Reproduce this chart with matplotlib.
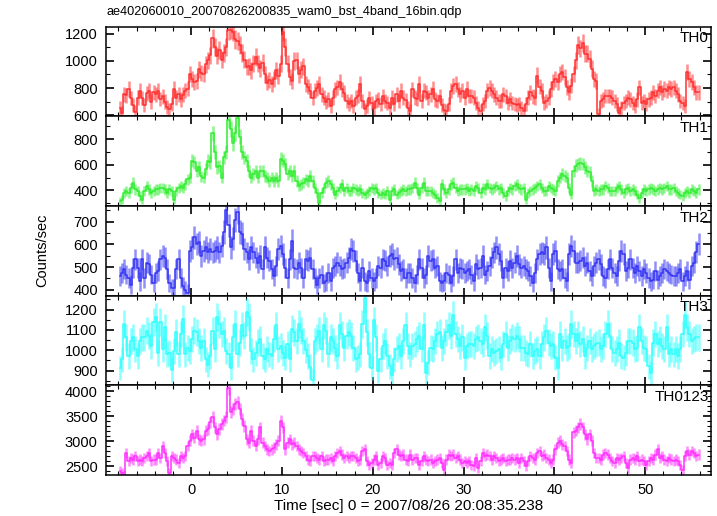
import numpy as np
import matplotlib
matplotlib.use("Agg")
import matplotlib.pyplot as plt
from matplotlib.ticker import MultipleLocator

plt.rcParams["font.family"] = ["Liberation Sans", "DejaVu Sans"]

TITLE = "ae402060010_20070826200835_wam0_bst_4band_16bin.qdp"
XLABEL = "Time [sec] 0 = 2007/08/26 20:08:35.238"
YLABEL = "Counts/sec"

# light curve: 0.25 s bins starting at t = -8 s (256 bins), counts/sec
T_START = -8.0
BIN = 0.25

th0 = [
    655, 617, 755, 745, 792, 725, 675, 625, 730, 780, 725, 675, 760, 780, 700, 770,
    755, 780, 720, 740, 700, 662, 642, 680, 792, 730, 755, 717, 750, 780, 795, 905,
    870, 842, 855, 937, 912, 905, 975, 1005, 1042, 1167, 1100, 1040, 1080, 1010, 1060, 1100,
    1225, 1230, 1215, 1160, 1145, 1115, 1060, 1010, 955, 960, 930, 980, 1030, 980, 945, 985,
    900, 840, 860, 830, 870, 930, 890, 980, 1217, 1105, 980, 880, 850, 1000, 1005, 900,
    935, 960, 830, 810, 780, 725, 780, 800, 830, 755, 730, 695, 717, 667, 730, 790,
    805, 842, 790, 765, 705, 680, 705, 667, 730, 742, 830, 705, 642, 667, 725, 690,
    655, 705, 717, 680, 740, 705, 690, 650, 730, 680, 755, 705, 780, 730, 710, 655,
    630, 790, 730, 720,
    830, 705, 780, 767, 730, 755, 792, 717, 705, 742, 675, 640, 630, 680, 780, 815,
    830, 790, 755, 780, 730, 792, 742, 742, 730, 692, 655, 630, 680, 705, 780, 800,
    780, 755, 730, 705, 705, 755, 740, 692, 720, 692, 680, 675, 680, 655, 630, 680,
    730, 767, 740, 730, 892, 810, 780, 692, 705, 730, 792, 842, 867, 842, 905, 917,
    880, 805, 767, 817, 905, 1005, 1117, 1092, 1130, 1055, 1055, 1017, 942, 867, 855, 605,
    705, 717, 742, 742, 742, 730, 705, 680, 617, 655, 692, 705, 730, 717, 692, 667,
    717, 805, 692, 705, 680, 717, 730, 767, 742, 780, 805, 767, 792, 780, 805, 792,
    805, 780, 755, 705, 692, 667, 917, 867, 842, 805, 767, 767,
]

th1 = [
    315, 328, 381, 395, 381, 420, 460, 408, 395, 355, 328, 395, 435, 408, 381, 395,
    408, 408, 420, 420, 408, 381, 408, 395, 328, 395, 420, 435, 420, 447, 488, 500,
    634, 620, 554, 580, 510, 500, 567, 634, 620, 847, 700, 580, 590, 500, 660, 700,
    953, 880, 767, 847, 966, 820, 700, 660, 634, 554, 500, 527, 554, 500, 554, 554,
    514, 500, 474, 500, 474, 500, 474, 647, 634, 607, 527, 554, 514, 554, 474, 435,
    447, 460, 487, 474, 514, 474, 420, 380, 302, 381, 420, 460, 474, 447, 420, 368,
    395, 420, 447, 395, 420, 395, 395, 420, 408, 395, 408, 381, 368, 381, 395, 420,
    408, 420, 381, 368, 381, 368, 395, 328, 395, 408, 368, 381, 395, 408, 395, 408,
    408, 420, 460, 420,
    368, 420, 460, 395, 395, 395, 381, 368, 341, 315, 448, 408, 381, 408, 447, 460,
    420, 395, 408, 408, 408, 420, 395, 408, 395, 434, 420, 381, 420, 408, 447, 420,
    408, 420, 434, 408, 420, 381, 355, 395, 420, 408, 434, 447, 420, 408, 420, 328,
    381, 395, 408, 420, 434, 447, 420, 395, 395, 434, 420, 408, 395, 474, 501, 528,
    515, 501, 420, 368, 554, 594, 607, 612, 607, 580, 554, 541, 474, 395, 408, 395,
    408, 408, 434, 420, 395, 395, 395, 420, 434, 408, 381, 408, 420, 395, 408, 395,
    368, 341, 381, 408, 395, 408, 420, 408, 395, 408, 420, 408, 420, 434, 408, 408,
    420, 395, 381, 368, 355, 381, 395, 381, 408, 395, 381, 408,
]

th2 = [
    460, 475, 490, 467, 452, 422, 496, 534, 496, 437, 534, 452, 520, 513, 467, 430,
    475, 482, 534, 549, 541, 490, 430, 407, 407, 490, 534, 452, 415, 400, 385, 572,
    586, 631, 601, 609, 549, 572, 586, 564, 579, 564, 572, 586, 564, 594, 654, 750,
    683, 586, 624, 706, 743, 654, 646, 579, 564, 534, 586, 564, 542, 520, 549, 490,
    586, 542, 527, 490, 460, 504, 579, 594, 557, 497, 452, 534, 616, 497, 490, 519,
    497, 452, 534, 527, 541, 490, 452, 422, 452, 467, 430, 437, 475, 437, 497, 504,
    519, 504, 490, 497, 520, 541, 579, 572, 527, 475, 437, 497, 437, 430, 482, 452,
    437, 452, 504, 497, 534, 527, 504, 549, 557, 534, 541, 512, 482, 490, 452, 475,
    475, 452, 430, 467,
    534, 497, 452, 467, 549, 527, 534, 497, 504, 437, 430, 437, 475, 467, 430, 460,
    534, 475, 497, 490, 475, 482, 490, 467, 437, 512, 490, 497, 549, 467, 482, 504,
    542, 564, 586, 557, 527, 452, 497, 482, 527, 497, 519, 549, 512, 497, 504, 490,
    482, 460, 430, 475, 534, 557, 564, 557, 586, 497, 437, 557, 572, 490, 482, 490,
    452, 437, 557, 594, 571, 519, 520, 527, 542, 504, 519, 482, 460, 504, 519, 534,
    512, 460, 452, 490, 534, 497, 475, 460, 527, 572, 557, 482, 497, 534, 497, 475,
    504, 482, 460, 490, 475, 452, 437, 445, 482, 445, 460, 475, 490, 482, 475, 467,
    460, 460, 475, 490, 437, 460, 482, 445, 504, 520, 565, 600,
]

th3 = [
    913, 955, 1130, 1063, 972, 1047, 1063, 1005, 972, 1047, 1063, 1063, 1097, 1072, 1022, 1138,
    1163, 988, 1138, 1005, 1113, 980, 988, 905, 997, 1088, 980, 1080, 1155, 980, 1013, 997,
    1055, 1097, 1088, 1047, 1013, 1047, 955, 930, 972, 1097, 1005, 1163, 1130, 1080, 1097, 997,
    980, 913, 1063, 1130, 980, 1038, 1122, 1072, 1188, 1163, 997, 955, 988, 1038, 1055, 972,
    955, 1005, 980, 972, 1055, 1122, 1005, 1022, 988, 963, 1030, 955, 1105, 1088, 1047, 1130,
    1097, 1047, 1000, 972, 920, 855, 1047, 1063, 1097, 1005, 1122, 1097, 980, 1063, 1047, 1013,
    972, 1122, 1080, 1013, 1072, 1088, 1072, 1013, 955, 963, 980, 1130, 1255, 1088, 980, 913,
    1147, 1063, 897, 955, 1022, 1047, 972, 922, 880, 955, 1005, 1022, 972, 1047, 1122, 1022,
    980, 1022, 1030, 1055,
    1072, 1005, 1122, 888, 938, 1013, 1005, 1047, 1080, 1088, 1013, 1047, 1088, 1122, 1072, 1172,
    1080, 1055, 1022, 1063, 963, 1022, 1030, 1030, 1022, 1055, 1063, 1047, 1030, 1113, 1072, 972,
    1005, 988, 997, 1005, 963, 1030, 1080, 1013, 1047, 1063, 1055, 1072, 1055, 1013, 1013, 988,
    980, 1030, 972, 997, 1005, 972, 1030, 1063, 1097, 1038, 1022, 1030, 963, 913, 1080, 1013,
    1047, 1013, 1022, 1130, 1080, 1047, 1080, 1030, 1055, 972, 1013, 1047, 1005, 1022, 1030, 1038,
    1005, 1022, 1080, 1130, 1072, 1005, 988, 1005, 1038, 972, 963, 988, 1047, 1047, 1038, 1005,
    1013, 1113, 1047, 1013, 1005, 922, 888, 1038, 1080, 1030, 1055, 1022, 1005, 1113, 980, 1005,
    980, 1005, 972, 1005, 1080, 1172, 1113, 1080, 1047, 1055, 1063, 1063,
]

th0123 = [
    2400, 2365, 2330, 2770, 2600, 2668, 2635, 2702, 2600, 2635, 2600, 2668, 2702, 2770, 2600, 2635,
    2635, 2770, 2668, 2905, 2770, 2600, 2365, 2702, 2668, 2635, 2568, 2702, 2668, 2702, 2905, 3007,
    3142, 3075, 3210, 3040, 3007, 3040, 3210, 3243, 3378, 3480, 3277, 3142, 3243, 3344, 3412, 3480,
    4054, 3581, 3649, 3750, 3784, 3649, 3446, 3310, 3040, 2973, 3210, 3007, 2905, 3040, 3277, 2973,
    2905, 2838, 2804, 2838, 2872, 2939, 3007, 3412, 3277, 2838, 2973, 3040, 2939, 2973, 2905, 2838,
    2804, 2770, 2702, 2635, 2600, 2702, 2702, 2668, 2635, 2702, 2600, 2635, 2635, 2668, 2600, 2702,
    2770, 2804, 2736, 2668, 2702, 2668, 2702, 2702, 2668, 2600, 2635, 2804, 2838, 2600, 2535, 2568,
    2635, 2702, 2535, 2568, 2702, 2668, 2535, 2568, 2535, 2770, 2838, 2736, 2702, 2736, 2635, 2600,
    2736, 2635, 2668, 2668,
    2534, 2600, 2700, 2635, 2600, 2635, 2568, 2600, 2635, 2668, 2568, 2432, 2635, 2736, 2702, 2736,
    2668, 2702, 2635, 2568, 2600, 2568, 2600, 2534, 2500, 2668, 2466, 2600, 2770, 2702, 2736, 2702,
    2635, 2702, 2668, 2600, 2635, 2668, 2600, 2635, 2635, 2668, 2635, 2668, 2566, 2668, 2600, 2500,
    2600, 2702, 2668, 2635, 2770, 2804, 2702, 2736, 2668, 2635, 2568, 2635, 2838, 2973, 3007, 2939,
    2905, 2804, 2635, 2566, 3176, 3210, 3277, 3344, 3277, 3142, 3040, 3142, 3007, 2770, 2668, 2668,
    2635, 2736, 2770, 2736, 2668, 2600, 2566, 2668, 2635, 2668, 2702, 2568, 2466, 2635, 2668, 2635,
    2702, 2600, 2635, 2600, 2534, 2600, 2668, 2635, 2736, 2838, 2668, 2702, 2635, 2600, 2668, 2635,
    2600, 2635, 2600, 2534, 2432, 2702, 2804, 2736, 2804, 2770, 2702, 2736,
]

names = ["TH0", "TH1", "TH2", "TH3", "TH0123"]
series = [th0, th1, th2, th3, th0123]
colors = ["#ff3030", "#30ee30", "#3535f5", "#30ffff", "#ff30ff"]
ylims = [(590, 1252), (278, 978), (374, 768), (828, 1268), (2328, 4116)]
ymajor = [200, 200, 100, 100, 500]
yminor = [100, 100, 50, 50, 100]

fig, axes = plt.subplots(5, 1, sharex=True, figsize=(7.17, 5.16), dpi=100)
fig.subplots_adjust(left=0.148, right=0.991, top=0.948, bottom=0.0795, hspace=0)

for ax, name, vals, c, yl, ma, mi in zip(axes, names, series, colors, ylims, ymajor, yminor):
    y = np.array(vals, dtype=float)
    t = T_START + BIN * (np.arange(len(y)) + 0.5)
    err = np.sqrt(y * BIN) / BIN          # Poisson error per bin
    ax.errorbar(t, y, yerr=err, fmt="none", ecolor=c, elinewidth=1.8, alpha=0.55)
    ax.step(t, y, where="mid", color=c, lw=1.1)
    ax.set_ylim(*yl)
    ax.yaxis.set_major_locator(MultipleLocator(ma))
    ax.yaxis.set_minor_locator(MultipleLocator(mi))
    ax.text(0.997, 0.95, name, transform=ax.transAxes, ha="right", va="top", fontsize=11)
    ax.tick_params(which="both", direction="in", top=True, right=True, labelsize=10.5, pad=6)
    ax.tick_params(which="major", length=6, width=1.2)
    ax.tick_params(which="minor", length=3, width=0.8)
    for s in ax.spines.values():
        s.set_linewidth(1.1)

axes[-1].set_xlim(-9.35, 57.2)
axes[-1].xaxis.set_major_locator(MultipleLocator(10))
axes[-1].xaxis.set_minor_locator(MultipleLocator(2))
axes[-1].set_xlabel(XLABEL, fontsize=11, labelpad=1)

fig.text(0.149, 1 - 12 / 516, TITLE, ha="left", va="center", fontsize=9.2)
fig.text(42 / 717, 0.515, YLABEL, rotation=90, ha="center", va="center", fontsize=10.5)

fig.savefig("out.png", dpi=100)
